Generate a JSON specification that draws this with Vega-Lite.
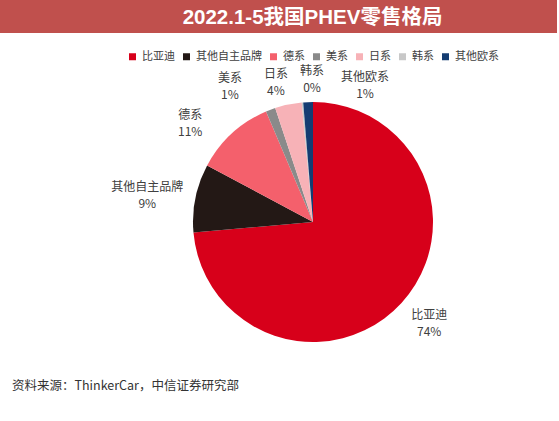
{
  "$schema": "https://vega.github.io/schema/vega-lite/v6.json",
  "background": "white",
  "padding": 0,
  "bounds": "flush",
  "spacing": 37,
  "config": {"view": {"stroke": null}, "font": "Noto Sans CJK SC"},
  "title": {"text": "资料来源：ThinkerCar，中信证券研究部", "orient": "bottom", "anchor": "start", "dx": 12, "offset": 6, "fontSize": 12.5, "fontWeight": "normal", "color": "#333333", "font": "Noto Sans CJK SC"},
  "vconcat": [
    {
      "width": 557,
      "height": 33,
      "view": {"fill": "#C0504D", "stroke": null},
      "data": {"values": [{"t": "2022.1-5我国PHEV零售格局"}]},
      "mark": {"type": "text", "color": "white", "fontSize": 20.5, "fontWeight": "bold", "font": "Liberation Sans, Noto Sans CJK SC", "dx": 34, "dy": 1},
      "encoding": {"text": {"field": "t"}}
    },
    {
      "bounds": "flush",
      "spacing": 66,
      "hconcat": [
        {
          "width": 1,
          "height": 304,
          "data": {"values": [{"t": ""}]},
          "mark": "text",
          "encoding": {"text": {"field": "t"}}
        },
        {
          "width": 492,
          "height": 304,
          "data": {"values": [
            {"idx": 1, "name": "比亚迪", "value": 73.6},
            {"idx": 2, "name": "其他自主品牌", "value": 9.2},
            {"idx": 3, "name": "德系", "value": 10.8},
            {"idx": 4, "name": "美系", "value": 1.3},
            {"idx": 5, "name": "日系", "value": 3.6},
            {"idx": 6, "name": "韩系", "value": 0.2},
            {"idx": 7, "name": "其他欧系", "value": 1.3}
          ]},
          "transform": [
            {"calculate": "[datum.name, format(datum.value/100, '.0%')]", "as": "label"},
            {"stack": "value", "groupby": [], "sort": [{"field": "idx", "order": "ascending"}], "as": ["v0", "v1"]},
            {"calculate": "(datum.v0 + datum.v1) / 2", "as": "mid"}
          ],
          "layer": [
            {
              "mark": {"type": "arc", "outerRadius": 120},
              "encoding": {
                "theta": {"field": "v0", "type": "quantitative", "stack": null, "scale": {"domain": [0, 100]}},
                "theta2": {"field": "v1"},
                "color": {
                  "field": "name",
                  "type": "nominal",
                  "scale": {
                    "domain": ["比亚迪", "其他自主品牌", "德系", "美系", "日系", "韩系", "其他欧系"],
                    "range": ["#D7001A", "#231815", "#F4606C", "#8A8A8A", "#F7B2B7", "#C8C8C8", "#143C72"]
                  },
                  "legend": {
                    "orient": "none",
                    "legendX": 127,
                    "legendY": 51,
                    "direction": "horizontal",
                    "columns": 7,
                    "title": null,
                    "padding": 0,
                    "symbolType": "square",
                    "symbolSize": 49,
                    "symbolStrokeWidth": 0,
                    "labelFontSize": 11,
                    "labelFont": "Noto Sans CJK SC",
                    "labelColor": "#404040",
                    "labelOffset": 4,
                    "columnPadding": 6
                  }
                }
              }
            },
            {
              "mark": {"type": "text", "fontSize": 12, "lineHeight": 17, "baseline": "middle", "dy": -8, "color": "#404040", "font": "Noto Sans CJK SC"},
              "encoding": {
                "theta": {
                  "field": "mid",
                  "type": "quantitative",
                  "stack": null,
                  "scale": {
                    "domain": [36.8, 78.2, 88.2, 94.25, 96.7, 98.6, 99.35],
                    "range": [2.2864, 4.8765, 5.3931, 5.7334, 6.0249, 6.2762, 6.6462],
                    "zero": false,
                    "nice": false
                  }
                },
                "radius": {
                  "field": "idx",
                  "type": "quantitative",
                  "scale": {
                    "type": "linear",
                    "domain": [1, 2, 3, 4, 5, 6, 7],
                    "range": [154, 168, 158, 159, 145, 143.5, 146.5],
                    "zero": false,
                    "nice": false
                  }
                },
                "text": {"field": "label"}
              }
            }
          ],
          "resolve": {"scale": {"theta": "independent"}}
        }
      ]
    }
  ]
}
